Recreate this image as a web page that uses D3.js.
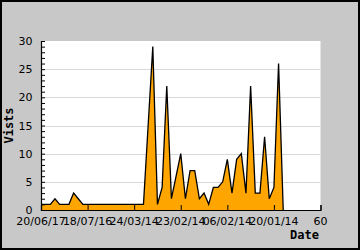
<!DOCTYPE html>
<html>
<head>
<meta charset="utf-8">
<script src="https://cdn.jsdelivr.net/npm/d3@7"></script>
<style>
  body { margin: 0; background: #fff; }
  svg { display: block; }
</style>
</head>
<body>
<div id="chart"></div>
<script>
// visits per day index
const days = [0,1,2,3,4,5,6,7,8,9,10,11,12,13,14,15,16,17,18,19,20,21,22,23,24,25,26,
  27,28,29,30,31,32,33,34,35,36,37,38,39,40,41,42,43,44,45,46,47,48,49,50,51,52];
const visits = [1,1,1,2,1,1,1,3,2,1,1,1,1,1,1,1,1,1,1,1,1,1,1,15,29,1,4,
  22,2,6,10,2,7,7,2,3,1,4,4,5,9,3,9,10,3,22,3,3,13,2,4,26,0];
const xTickValues = [0, 10, 20, 30, 40, 50, 60];
const xTickLabels = ["20/06/17", "18/07/16", "24/03/14", "23/02/14", "06/02/14", "20/01/14", "60"];
const yTickValues = [0, 5, 10, 15, 20, 25, 30];

const width = 360, height = 250;
const plotLeft = 41, plotRight = 320.5, plotTop = 41, plotBottom = 210;

const svg = d3.select("#chart").append("svg")
  .attr("width", width)
  .attr("height", height);

// gray backdrop with black frame
svg.append("rect")
  .attr("x", 1).attr("y", 1)
  .attr("width", width - 2).attr("height", height - 2)
  .attr("fill", "#c8c8c8")
  .attr("stroke", "#000")
  .attr("stroke-width", 2);

svg.append("rect")
  .attr("x", plotLeft).attr("y", plotTop)
  .attr("width", plotRight - plotLeft).attr("height", plotBottom - plotTop)
  .attr("fill", "#fff");

const x = d3.scaleLinear().domain([0, 60]).range([plotLeft, plotRight]);
const y = d3.scaleLinear().domain([0, 30]).range([plotBottom, plotTop]);

// gridlines
svg.append("g")
  .selectAll("line")
  .data(yTickValues.filter(v => v > 0 && v < 30))
  .join("line")
  .attr("x1", plotLeft).attr("x2", plotRight)
  .attr("y1", d => Math.round(y(d)) + 0.5)
  .attr("y2", d => Math.round(y(d)) + 0.5)
  .attr("stroke", "#d8d8d8")
  .attr("stroke-width", 1);

const data = days.map((d, i) => ({ day: d, v: visits[i] }));

// orange area with black outline
svg.append("path")
  .datum(data)
  .attr("fill", "orange")
  .attr("d", d3.area().x(d => x(d.day)).y0(y(0)).y1(d => y(d.v)));

svg.append("path")
  .datum(data)
  .attr("fill", "none")
  .attr("stroke", "#000")
  .attr("stroke-width", 1.3)
  .attr("stroke-linejoin", "miter")
  .attr("d", d3.line().x(d => x(d.day)).y(d => y(d.v)));

// y axis: ticks point inward, minor tick every unit
const yAxis = svg.append("g")
  .attr("transform", `translate(${plotLeft},0)`)
  .call(d3.axisLeft(y).tickValues(d3.range(0, 31)).tickSize(-4).tickFormat(""));
yAxis.select(".domain").attr("stroke-width", 1.2);
yAxis.selectAll(".tick line").attr("stroke", "#000");

svg.append("g")
  .selectAll("text")
  .data(yTickValues)
  .join("text")
  .attr("x", 32.5)
  .attr("y", d => y(d) + 4)
  .attr("text-anchor", "end")
  .attr("font-family", "DejaVu Sans")
  .attr("font-size", "11px")
  .attr("fill", "#000")
  .text(d => d);

// x axis
const xAxis = svg.append("g")
  .attr("transform", `translate(0,${plotBottom})`)
  .call(d3.axisBottom(x).tickValues(xTickValues.slice(1)).tickSize(-5).tickFormat(""));
xAxis.select(".domain").attr("stroke-width", 1.2);
xAxis.selectAll(".tick line").attr("stroke", "#000");

svg.append("g")
  .selectAll("text")
  .data(xTickValues)
  .join("text")
  .attr("x", d => x(d))
  .attr("y", 225)
  .attr("text-anchor", "middle")
  .attr("font-family", "DejaVu Sans")
  .attr("font-size", "11px")
  .attr("fill", "#000")
  .text((d, i) => xTickLabels[i]);

// axis titles
svg.append("text")
  .attr("transform", `translate(13,${(plotTop + plotBottom) / 2}) rotate(-90)`)
  .attr("text-anchor", "middle")
  .attr("font-family", "DejaVu Sans Mono")
  .attr("font-weight", "bold")
  .attr("font-size", "12px")
  .text("Vists");

svg.append("text")
  .attr("x", 319)
  .attr("y", 239)
  .attr("text-anchor", "end")
  .attr("font-family", "DejaVu Sans Mono")
  .attr("font-weight", "bold")
  .attr("font-size", "12px")
  .text("Date");
</script>
</body>
</html>
